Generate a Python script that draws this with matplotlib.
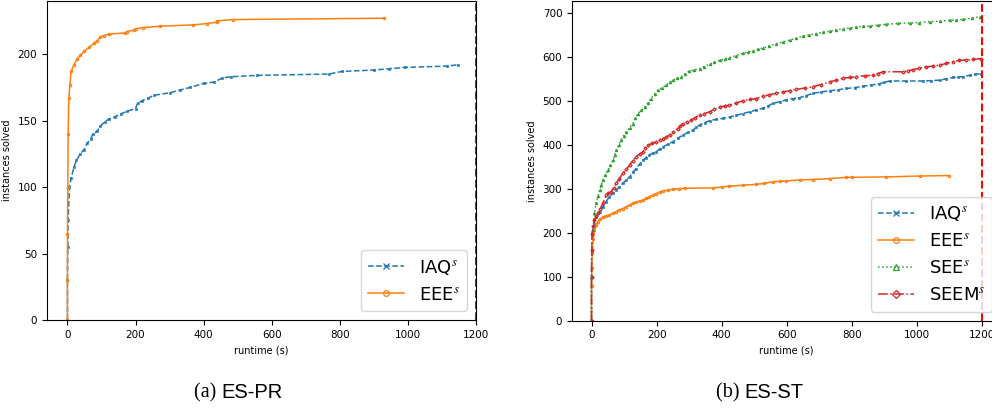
import matplotlib
matplotlib.use("Agg")
import numpy as np
from matplotlib import pyplot as plt

plt.rcParams["mathtext.fontset"] = "stix"

# ES-PR: (runtime, instances solved)
pr_iaq_t = [0, 0, 1, 2, 6, 11, 19, 26, 38, 48, 58, 68, 75, 87, 97, 109, 121, 141, 156,
            175, 200, 206, 219, 238, 253, 302, 331, 361, 400, 430, 455, 479, 557, 767,
            807, 900, 943, 992, 1115, 1147]
pr_iaq_n = [0, 30, 55, 75, 100, 107, 115, 120, 125, 128, 133, 136, 140, 142, 146, 149,
            151, 153, 155, 157, 159, 163, 165, 167, 169, 171, 173, 175, 178, 179, 182,
            183, 184, 185, 187, 188, 189, 190, 191, 192]
pr_eee_t = [0, 0, 0, 1, 2, 4, 7, 11, 19, 28, 38, 48, 63, 77, 87, 97, 107, 121, 170,
            175, 195, 200, 221, 273, 369, 410, 438, 440, 486, 930]
pr_eee_n = [0, 30, 65, 100, 140, 167, 177, 187, 192, 196, 199, 202, 205, 208, 210, 213,
            214, 215, 216, 217, 218, 219, 220, 221, 222, 223, 224, 225, 226, 227]

# ES-ST
st_iaq_t = [0, 0, 1, 2, 7, 14, 25, 35, 45, 55, 66, 76, 86, 96, 107, 117, 127, 137, 148,
            158, 168, 178, 189, 199, 209, 219, 235, 250, 265, 281, 296, 312, 322, 332,
            348, 363, 384, 404, 425, 445, 465, 486, 506, 527, 542, 557, 578, 598, 619,
            639, 660, 680, 706, 732, 758, 783, 809, 834, 860, 885, 900, 916, 968, 1019,
            1045, 1070, 1090, 1111, 1126, 1142, 1162, 1180, 1198]
st_iaq_n = [0, 100, 160, 198, 220, 236, 248, 259, 271, 282, 290, 297, 305, 312, 320,
            327, 337, 346, 356, 365, 371, 377, 381, 384, 390, 395, 401, 407, 415, 422,
            428, 433, 440, 445, 450, 455, 458, 460, 463, 467, 471, 475, 479, 483, 488,
            494, 498, 502, 505, 507, 512, 517, 520, 523, 525, 528, 530, 533, 536, 539,
            542, 545, 545, 545, 546, 547, 550, 553, 554, 555, 558, 560, 562]
st_eee_t = [0, 0, 1, 2, 5, 9, 14, 19, 27, 35, 45, 55, 66, 76, 86, 96, 107, 117, 127,
            137, 148, 158, 168, 178, 189, 199, 209, 219, 235, 250, 268, 286, 373, 400,
            424, 465, 506, 530, 557, 578, 598, 640, 680, 732, 783, 800, 906, 1010, 1098]
st_eee_n = [0, 80, 120, 153, 185, 206, 217, 225, 231, 236, 238, 240, 244, 248, 252,
            255, 259, 263, 267, 270, 272, 274, 278, 282, 286, 289, 292, 295, 297, 299,
            300, 301, 302, 304, 306, 308, 310, 312, 316, 317, 318, 320, 321, 323, 326,
            326, 327, 329, 330]
st_see_t = [0, 0, 1, 2, 4, 9, 14, 20, 25, 30, 35, 42, 50, 58, 66, 71, 76, 84, 91, 99,
            107, 117, 127, 135, 142, 153, 163, 173, 183, 194, 204, 217, 230, 240, 250,
            263, 276, 288, 301, 316, 332, 347, 363, 378, 394, 409, 424, 445, 465, 480,
            496, 512, 527, 547, 568, 589, 609, 630, 650, 670, 691, 712, 732, 752, 773,
            794, 814, 835, 855, 880, 906, 942, 978, 1008, 1039, 1070, 1101, 1121, 1142,
            1170, 1193]
st_see_n = [0, 100, 160, 200, 206, 244, 267, 283, 297, 309, 320, 331, 342, 353, 365,
            377, 388, 400, 411, 421, 430, 439, 448, 460, 471, 478, 486, 495, 505, 515,
            524, 530, 536, 542, 547, 551, 555, 562, 568, 570, 573, 578, 583, 588, 592,
            595, 598, 603, 608, 611, 614, 617, 620, 625, 630, 634, 638, 643, 647, 650,
            653, 656, 658, 661, 664, 666, 668, 669, 670, 672, 674, 676, 677, 678, 680,
            681, 683, 684, 685, 688, 691]
st_seem_t = [0, 0, 1, 2, 5, 9, 14, 19, 27, 35, 45, 52, 60, 68, 76, 86, 96, 107, 117,
             127, 137, 148, 158, 165, 173, 186, 199, 209, 219, 230, 240, 252, 265, 273,
             281, 294, 306, 319, 332, 347, 363, 378, 394, 409, 424, 445, 465, 486, 506,
             527, 547, 568, 588, 609, 629, 655, 680, 706, 732, 752, 773, 794, 814, 840,
             865, 880, 896, 957, 973, 988, 1008, 1029, 1050, 1070, 1090, 1111, 1131,
             1150, 1172, 1198]
st_seem_n = [0, 100, 160, 198, 215, 229, 237, 244, 255, 267, 286, 290, 293, 302, 312,
             323, 335, 344, 354, 364, 373, 379, 384, 392, 399, 403, 407, 411, 414, 418,
             422, 429, 437, 443, 448, 452, 456, 462, 467, 471, 475, 481, 486, 488, 490,
             495, 500, 503, 505, 510, 514, 517, 520, 523, 526, 529, 532, 537, 543, 547,
             551, 553, 555, 557, 558, 562, 566, 566, 568, 571, 574, 577, 579, 581, 585,
             589, 592, 593, 594, 596]

caps = ["(a)", "(b)"]
names = ["ES-PR", "ES-ST"]

fig = plt.figure(figsize=(9.92, 4.08), dpi=100)
ax1 = fig.add_axes([0.0474, 0.2157, 0.4325, 0.782])
ax2 = fig.add_axes([0.5766, 0.214, 0.4329, 0.7836])

kw = dict(markersize=1.6, fillstyle="none", markeredgewidth=0.9, linewidth=1.1)

ax1.plot(pr_iaq_t, pr_iaq_n, "--x", color="C0", label="IAQ$^s$", **kw)
ax1.plot(pr_eee_t, pr_eee_n, "-o", color="C1", label="EEE$^s$", **kw)
ax1.axvline(1200, color="red", linestyle="--", linewidth=1.5)
ax1.set_xlim(-60, 1200)
ax1.set_ylim(0, 240)
ax1.set_yticks([0, 50, 100, 150, 200])

ax2.plot(st_iaq_t, st_iaq_n, "--x", color="C0", label="IAQ$^s$", **kw)
ax2.plot(st_eee_t, st_eee_n, "-o", color="C1", label="EEE$^s$", **kw)
ax2.plot(st_see_t, st_see_n, ":^", color="C2", label="SEE$^s$", **kw)
ax2.plot(st_seem_t, st_seem_n, "-.D", color="C3", label="SEEM$^s$", **kw)
ax2.axvline(1200, color="red", linestyle="--", linewidth=1.5)
ax2.set_xlim(-60, 1260)
ax2.set_ylim(0, 727)

for ax in (ax1, ax2):
    ax.set_xticks([0, 200, 400, 600, 800, 1000, 1200])
    ax.tick_params(labelsize=7.5)
    ax.set_xlabel("runtime (s)", fontsize=7)
    ax.set_ylabel("instances solved", fontsize=7)
    ax.legend(loc="lower right", fontsize=13, markerscale=2.6)

# subfigure captions
for sx, cap, name in zip((0.2228, 0.7500), caps, names):
    fig.text(sx, 0.025, cap + " ", ha="right", va="baseline",
             fontsize=14.5, family="Liberation Serif")
    fig.text(sx, 0.025, name, ha="left", va="baseline",
             fontsize=14.5, family="Liberation Sans")

fig.savefig("out.png", dpi=100)
